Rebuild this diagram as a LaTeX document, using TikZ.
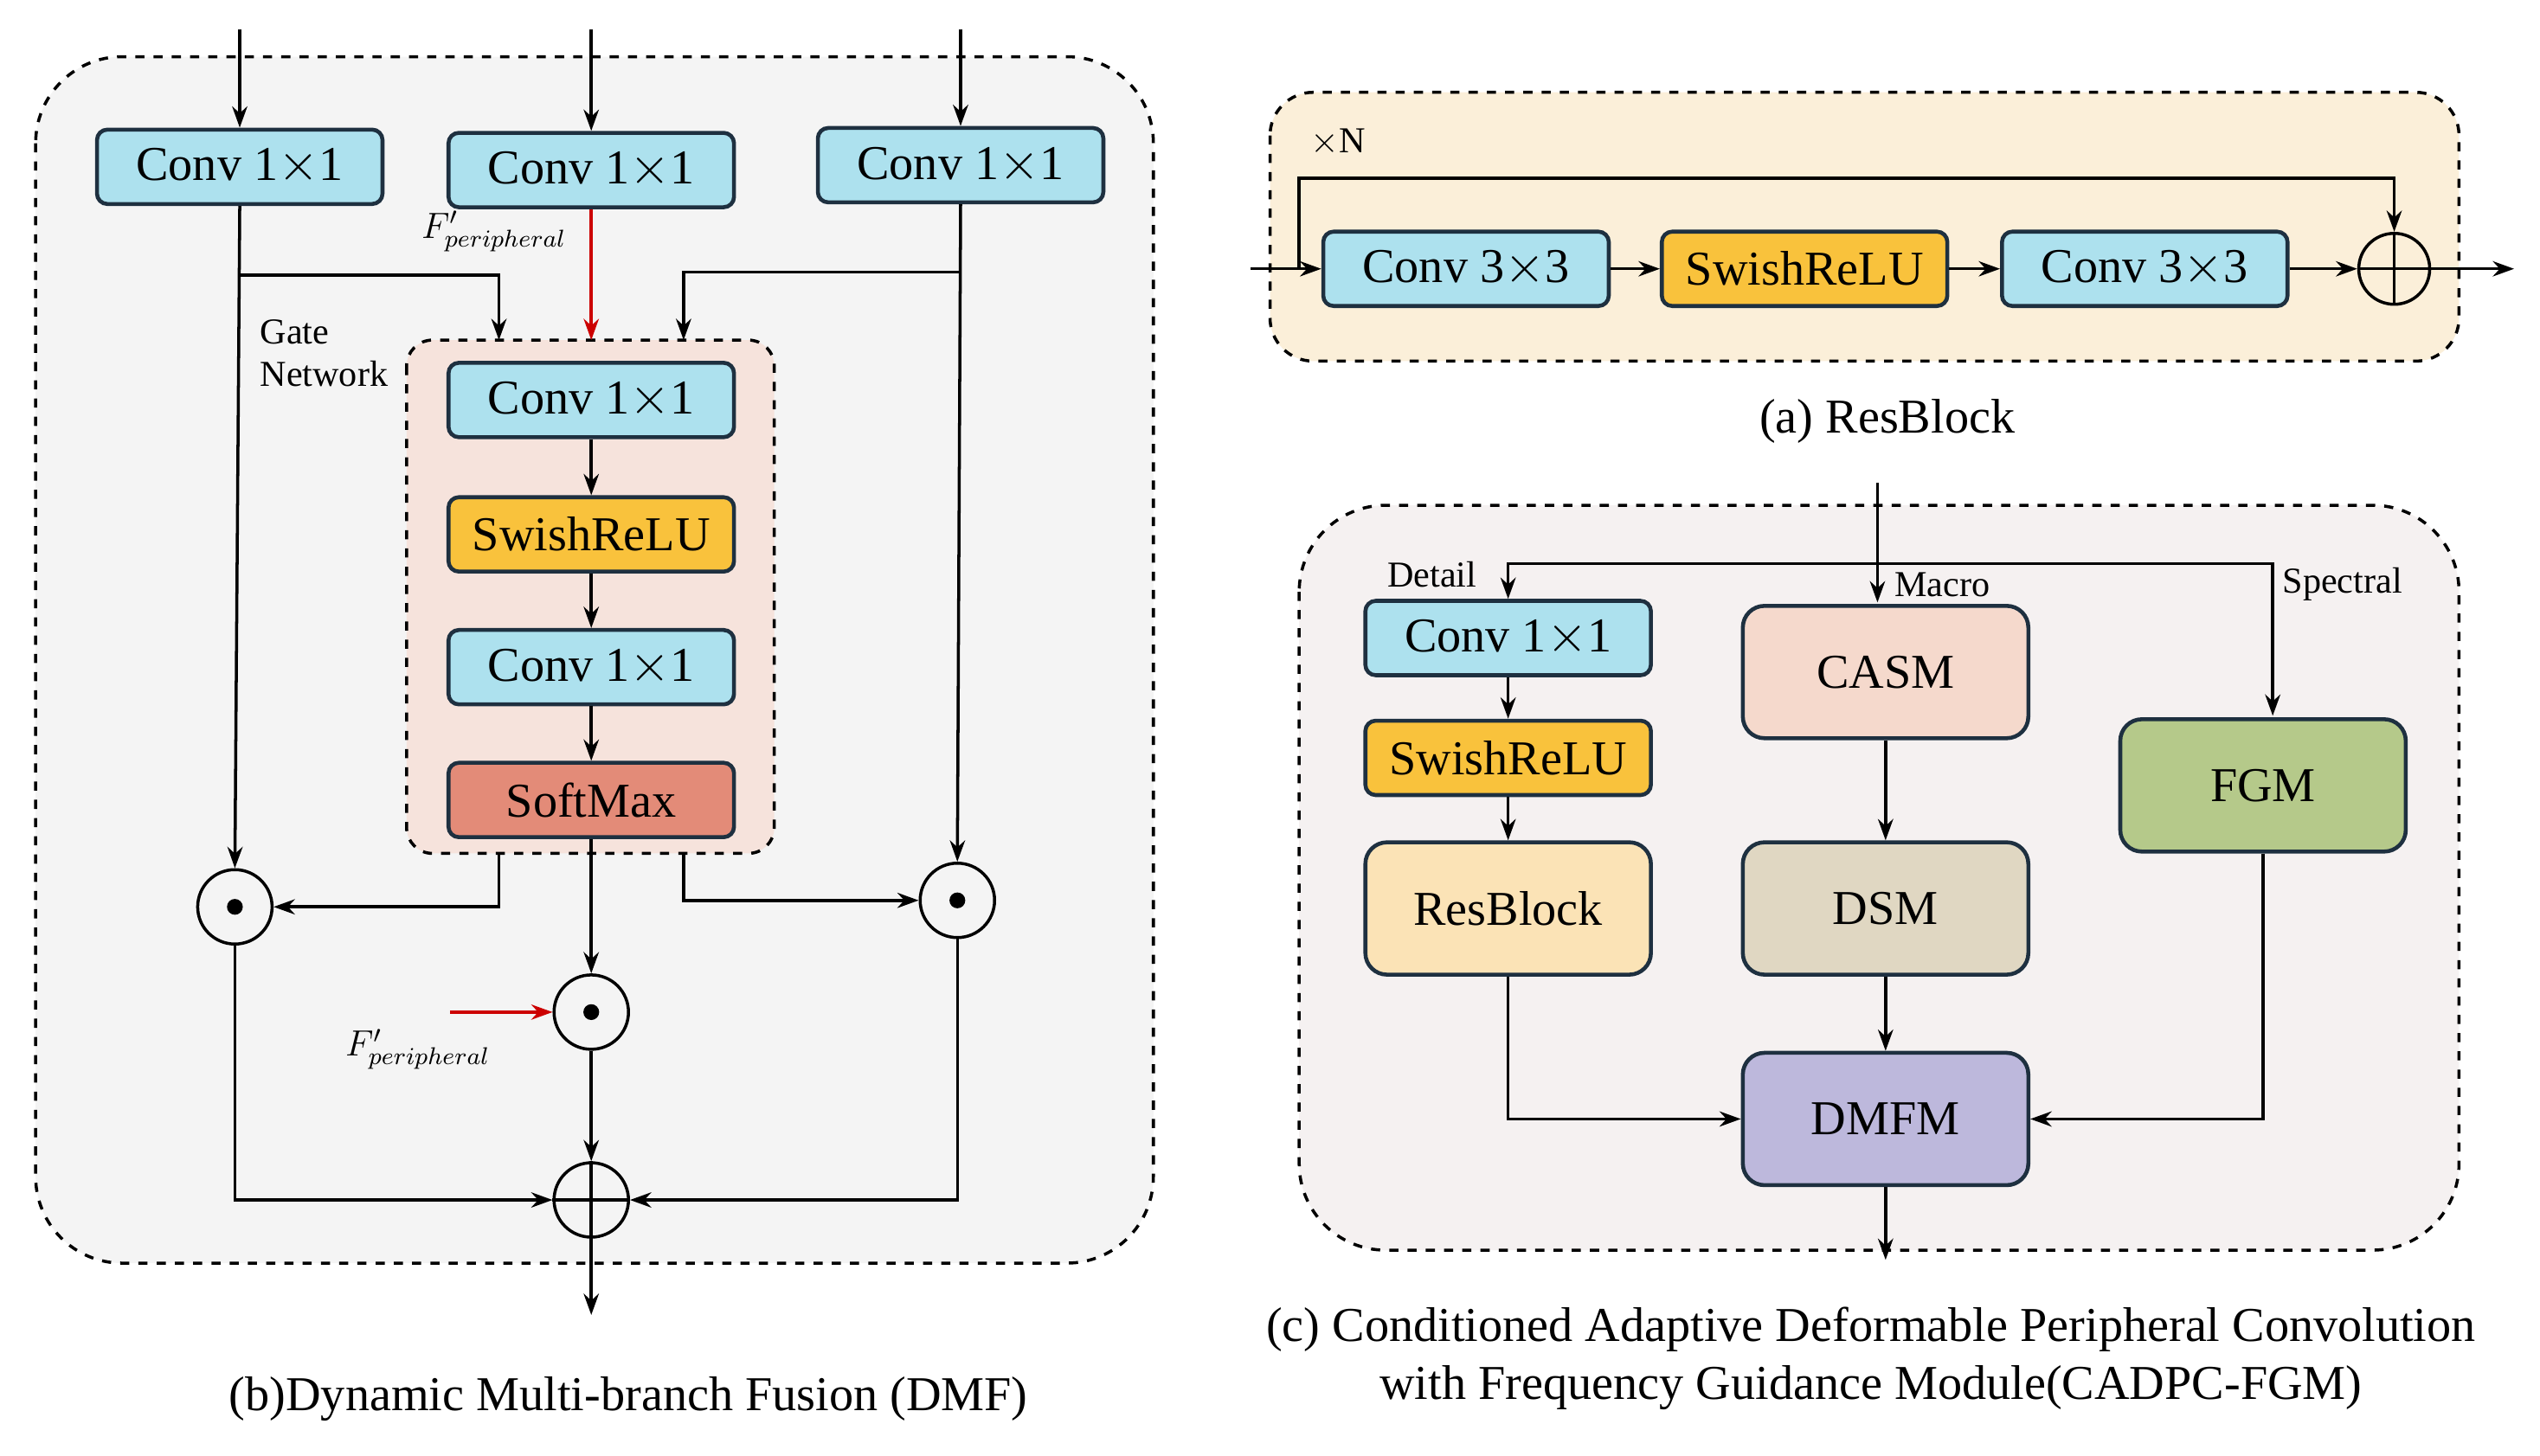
\documentclass[tikz,border=0pt]{standalone}
\usepackage{fontspec}
\setmainfont{Liberation Serif}
\usetikzlibrary{arrows.meta}
\definecolor{convc}{HTML}{ADE1EE}
\definecolor{swishc}{HTML}{F9C23C}
\definecolor{softc}{HTML}{E38B78}
\definecolor{gatec}{HTML}{F6E3DC}
\definecolor{resc}{HTML}{FBE3B6}
\definecolor{casmc}{HTML}{F5D9CC}
\definecolor{dsmc}{HTML}{E0D7C2}
\definecolor{fgmc}{HTML}{B5C98A}
\definecolor{dmfmc}{HTML}{BDB8DC}
\definecolor{panelc}{HTML}{F4F4F4}
\definecolor{resbc}{HTML}{FBEFD9}
\definecolor{edgec}{HTML}{1E3040}
\tikzset{
  blk/.style={draw=edgec,line width=1.3pt,rounded corners=0.12cm,minimum width=3.3cm,minimum height=0.86cm,font=\fontsize{16}{18}\selectfont},
  big/.style={blk,minimum height=1.53cm,rounded corners=0.25cm},
  panel/.style={draw,dashed,line width=1pt,rounded corners=1cm},
  op/.style={draw,circle,line width=1pt,minimum size=0.86cm,inner sep=0pt},
  arr/.style={-{Stealth[length=7pt,width=5pt]},line width=1pt},
  lab/.style={font=\fontsize{12}{14}\selectfont},
  captxt/.style={font=\fontsize{16}{19}\selectfont,align=center}
}
\begin{document}
\begin{tikzpicture}[x=0.01872cm,y=-0.01872cm]
\useasboundingbox (0,0) rectangle (1568,899);
% (b) DMF
\draw[panel,fill=panelc] (22,35) rectangle (712,780);
\draw[dashed,line width=1pt,rounded corners=0.3cm,fill=gatec] (251,210) rectangle (478,527);
\node[blk,fill=convc] (cl) at (148,103) {Conv 1$\times$1};
\node[blk,fill=convc] (cm) at (365,105) {Conv 1$\times$1};
\node[blk,fill=convc] (cr) at (593,102) {Conv 1$\times$1};
\node[blk,fill=convc] (g1) at (365,247) {Conv 1$\times$1};
\node[blk,fill=swishc] (g2) at (365,330) {SwishReLU};
\node[blk,fill=convc] (g3) at (365,412) {Conv 1$\times$1};
\node[blk,fill=softc] (g4) at (365,494) {SoftMax};
\node[lab,align=left] (gn) at (200,218) {Gate\\Network};
\node[lab] (fp1) at (305,143) {$F'_{peripheral}$};
\node[lab] (fp2) at (258,648) {$F'_{peripheral}$};
\node[op] (ml) at (145,560) {};
\node[op] (mr) at (591,556) {};
\node[op] (mc) at (365,625) {};
\node[op] (sum) at (365,741) {};
\foreach \n in {ml,mr,mc} \fill (\n) circle (2.6pt);
\draw[line width=1pt] (sum.north) -- (sum.south) (sum.west) -- (sum.east);
\coordinate (inl) at (148,18); \coordinate (inm) at (365,18); \coordinate (inr) at (593,18);
\draw[arr] (inl) -- (cl); \draw[arr] (inm) -- (cm); \draw[arr] (inr) -- (cr);
\draw[arr] (cl.south) -- (ml.north);
\draw[arr] (cr.south) -- (mr.north);
\draw[arr] (148,170) -- (308,170) -- (308,210);
\draw[arr] (593,168) -- (422,168) -- (422,210);
\draw[arr,red!80!black] (cm.south) -- (365,210);
\foreach \a/\b in {g1/g2,g2/g3,g3/g4} \draw[arr] (\a) -- (\b);
\draw[arr] (308,527) -- (308,560) -- (ml.east);
\draw[arr] (422,527) -- (422,556) -- (mr.west);
\draw[arr] (g4) -- (mc);
\coordinate (fpin) at (278,625);
\draw[arr,red!80!black] (fpin) -- (mc.west);
\draw[arr] (mc) -- (sum);
\draw[arr] (ml.south) -- (145,741) -- (sum.west);
\draw[arr] (mr.south) -- (591,741) -- (sum.east);
\coordinate (out) at (365,812);
\draw[arr] (sum) -- (out);
\node[captxt] (capb) at (388,864) {(b)Dynamic Multi-branch Fusion (DMF)};
% (a) ResBlock
\draw[panel,fill=resbc,rounded corners=0.5cm] (784,57) rectangle (1518,223);
\node[blk,fill=convc] (r1) at (905,166) {Conv 3$\times$3};
\node[blk,fill=swishc] (r2) at (1114,166) {SwishReLU};
\node[blk,fill=convc] (r3) at (1324,166) {Conv 3$\times$3};
\node[op,minimum size=0.82cm] (rs) at (1478,166) {};
\draw[line width=1pt] (rs.north) -- (rs.south) (rs.west) -- (rs.east);
\node[lab] (xn) at (826,88) {$\times$N};
\coordinate (rin) at (772,166); \coordinate (rout) at (1552,166);
\draw[arr] (rin) -- (r1); \draw[arr] (r1) -- (r2); \draw[arr] (r2) -- (r3); \draw[arr] (r3) -- (rs);
\draw[arr] (rs) -- (rout);
\draw[arr] (802,166) -- (802,110) -- (1478,110) -- (rs.north);
\node[captxt] (capa) at (1165,260) {(a) ResBlock};
% (c) CADPC-FGM
\draw[panel,fill=panelc!95!pink] (802,312) rectangle (1518,772);
\node[blk,fill=convc] (d1) at (931,394) {Conv 1$\times$1};
\node[blk,fill=swishc] (d2) at (931,468) {SwishReLU};
\node[big,fill=resc] (d3) at (931,561) {ResBlock};
\node[big,fill=casmc] (casm) at (1164,415) {CASM};
\node[big,fill=dsmc] (dsm) at (1164,561) {DSM};
\node[big,fill=fgmc] (fgm) at (1397,485) {FGM};
\node[big,fill=dmfmc] (dmfm) at (1164,691) {DMFM};
\node[lab] (ldet) at (884,355) {Detail};
\node[lab] (lmac) at (1199,361) {Macro};
\node[lab] (lspe) at (1446,361) {Spectral};
\coordinate (cin) at (1159,298);
\draw[arr] (cin) -- (1159,372);
\draw[arr] (1159,348) -- (931,348) -- (d1.north);
\draw[arr] (1159,348) -- (1403,348) -- (1403,442);
\draw[arr] (d1) -- (d2); \draw[arr] (d2) -- (d3);
\draw[arr] (casm) -- (dsm); \draw[arr] (dsm) -- (dmfm);
\draw[arr] (d3.south) -- (931,691) -- (dmfm.west);
\draw[arr] (fgm.south) -- (1397,691) -- (dmfm.east);
\coordinate (cout) at (1164,778);
\draw[arr] (dmfm) -- (cout);
\node[captxt] (capc) at (1155,839) {(c) Conditioned Adaptive Deformable Peripheral Convolution\\with Frequency Guidance Module(CADPC-FGM)};
\end{tikzpicture}
\end{document}
